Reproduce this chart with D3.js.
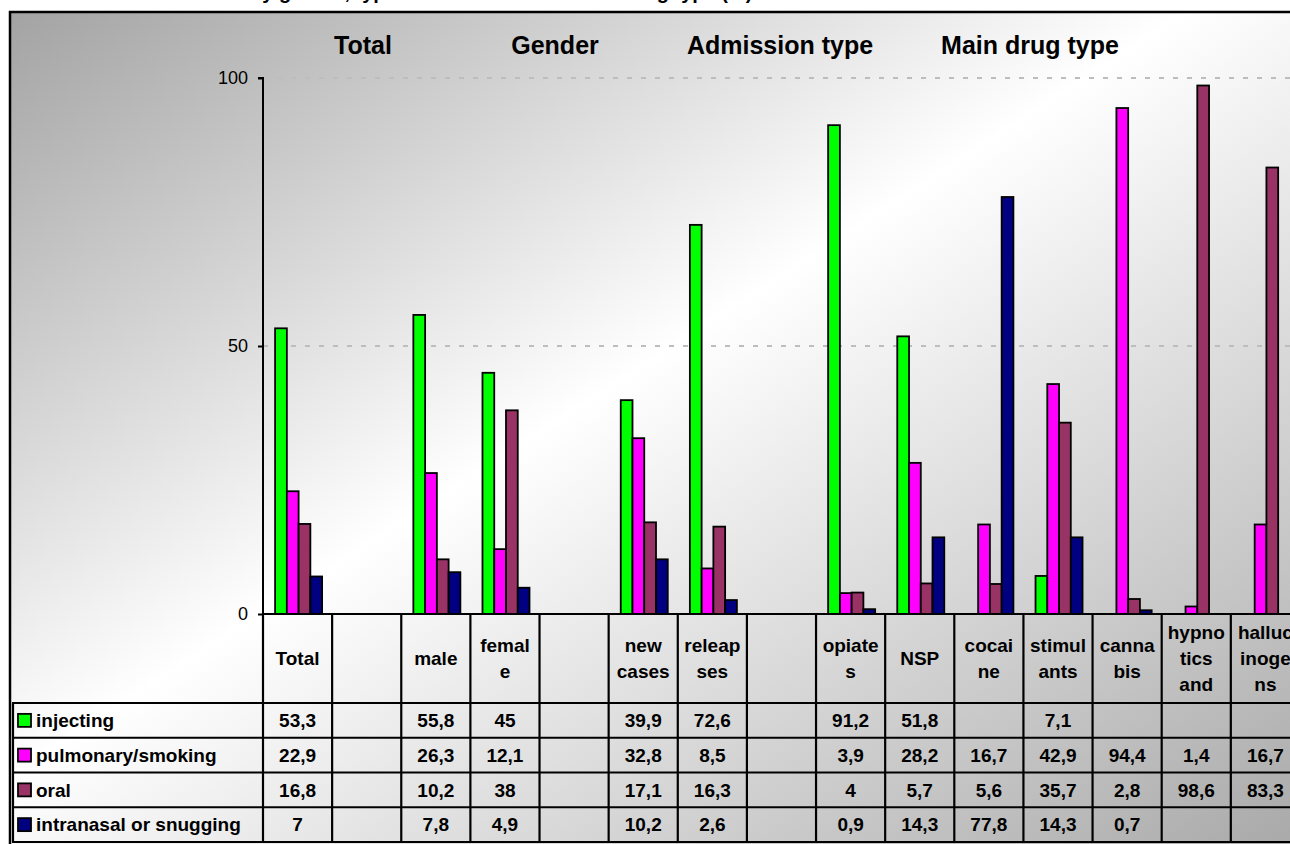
<!DOCTYPE html>
<html>
<head>
<meta charset="utf-8">
<script src="https://cdn.jsdelivr.net/npm/d3@7/dist/d3.min.js"></script>
<style>
  html, body { margin: 0; padding: 0; background: #ffffff; overflow: hidden; }
  svg { display: block; font-family: "Liberation Sans", Arial, sans-serif; }
</style>
</head>
<body>
<svg id="chart" width="1290" height="844"></svg>
<script>
// ---- data ----
const categories = ["Total", "", "male", "female", "", "new cases", "relapses", "",
  "opiates", "NSP", "cocaine", "stimulants", "cannabis", "hypnotics and", "hallucinogens"];
// header cell text as wrapped in the table
const headerLines = [["Total"], [], ["male"], ["femal", "e"], [], ["new", "cases"], ["releap", "ses"], [],
  ["opiate", "s"], ["NSP"], ["cocai", "ne"], ["stimul", "ants"], ["canna", "bis"],
  ["hypno", "tics", "and"], ["halluc", "inoge", "ns"]];
const seriesNames = ["injecting", "pulmonary/smoking", "oral", "intranasal or snugging"];
const injecting   = [53.3, null, 55.8, 45, null, 39.9, 72.6, null, 91.2, 51.8, null, 7.1, null, null, null];
const pulmonary   = [22.9, null, 26.3, 12.1, null, 32.8, 8.5, null, 3.9, 28.2, 16.7, 42.9, 94.4, 1.4, 16.7];
const oral        = [16.8, null, 10.2, 38, null, 17.1, 16.3, null, 4, 5.7, 5.6, 35.7, 2.8, 98.6, 83.3];
const intranasal  = [7, null, 7.8, 4.9, null, 10.2, 2.6, null, 0.9, 14.3, 77.8, 14.3, 0.7, null, null];
const yTicks = [0, 50, 100];
const groupHeadings = ["Total", "Gender", "Admission type", "Main drug type"];
const titleText = "Route of administration by gender, type of admission and main drug type (%)";

// ---- styling / layout ----
const colors = ["#00ff00", "#ff00ff", "#993366", "#000080"];
const headingX = [363, 555, 780, 1030];
const seriesValues = [injecting, pulmonary, oral, intranasal];

const svg = d3.select("#chart");
const defs = svg.append("defs");
const grad = defs.append("linearGradient").attr("id", "bg")
  .attr("x1", 0).attr("y1", 0).attr("x2", 1).attr("y2", 1);
grad.append("stop").attr("offset", 0).attr("stop-color", "#a3a3a3");
grad.append("stop").attr("offset", 0.45).attr("stop-color", "#ffffff");
grad.append("stop").attr("offset", 1).attr("stop-color", "#a6a6a6");

// title (runs off the top edge of the page)
svg.append("text").attr("x", 20).attr("y", -1.5)
  .attr("font-size", 20).attr("font-weight", "bold").text(titleText);

// chart area
svg.append("rect").attr("x", 10).attr("y", 12).attr("width", 1310).attr("height", 850)
  .attr("fill", "url(#bg)").attr("stroke", "#000").attr("stroke-width", 2.5);

const colW = 69.13;
const left = 263;
const x = d3.scaleBand().domain(d3.range(categories.length))
  .range([left, left + colW * categories.length]).padding(0);
const bw = x.bandwidth();
const xs = d3.scaleBand().domain(d3.range(seriesNames.length)).range([bw * 0.175, bw * 0.855]).padding(0);
const y = d3.scaleLinear().domain([0, 100]).range([614, 78]);
const right = left + colW * categories.length;

// gridlines
svg.append("g").selectAll("line").data(yTicks.filter(t => t > 0)).join("line")
  .attr("x1", left).attr("x2", right)
  .attr("y1", d => y(d)).attr("y2", d => y(d))
  .attr("stroke", "#bdbdbd").attr("stroke-width", 2).attr("stroke-dasharray", "5,9");

// bars
const barData = [];
seriesValues.forEach((vals, s) => vals.forEach((v, i) => {
  if (v !== null) barData.push({ s, i, v });
}));
svg.append("g").selectAll("rect").data(barData).join("rect")
  .attr("x", d => x(d.i) + xs(d.s))
  .attr("width", xs.bandwidth())
  .attr("y", d => y(d.v))
  .attr("height", d => y(0) - y(d.v))
  .attr("fill", d => colors[d.s])
  .attr("stroke", "#000").attr("stroke-width", 1.8);

// y axis
const yAxis = svg.append("g").attr("transform", `translate(${left},0)`)
  .call(d3.axisLeft(y).tickValues(yTicks).tickSize(5).tickPadding(10).tickFormat(d3.format("d")));
yAxis.select(".domain").attr("stroke", "#000").attr("stroke-width", 2).attr("d", `M-5,${y(100)}H0V${y(0)}`);
yAxis.selectAll(".tick line").attr("stroke", "#000").attr("stroke-width", 2);
yAxis.selectAll(".tick text").attr("font-size", 18).attr("fill", "#000")
  .attr("font-family", "Liberation Sans, Arial, sans-serif");

// group headings
svg.append("g").selectAll("text").data(groupHeadings).join("text")
  .attr("x", (d, i) => headingX[i]).attr("y", 54)
  .attr("text-anchor", "middle").attr("font-size", 25).attr("font-weight", "bold")
  .text(d => d);

// data table
const headTop = 614, headBottom = 703, rowH = 34.75;
const tableBottom = headBottom + rowH * seriesNames.length;
const tbl = svg.append("g");
const lineStyle = sel => sel.attr("stroke", "#000").attr("stroke-width", 2.2);

// horizontal rules
tbl.append("line").attr("x1", left).attr("x2", right).attr("y1", headTop).attr("y2", headTop).call(lineStyle);
d3.range(seriesNames.length + 1).forEach(r => {
  const yy = headBottom + r * rowH;
  tbl.append("line").attr("x1", 12).attr("x2", right).attr("y1", yy).attr("y2", yy).call(lineStyle);
});
// vertical rules
d3.range(categories.length + 1).forEach(c => {
  const xx = left + c * colW;
  tbl.append("line").attr("x1", xx).attr("x2", xx).attr("y1", headTop).attr("y2", tableBottom).call(lineStyle);
});
tbl.append("line").attr("x1", 13).attr("x2", 13).attr("y1", headBottom).attr("y2", tableBottom).call(lineStyle);

// header cells
const fs = 19, lh = 26, capShift = 6.8;
headerLines.forEach((lines, i) => {
  const cx = x(i) + bw / 2;
  const base0 = (headTop + headBottom) / 2 + capShift - (lines.length - 1) * lh / 2;
  lines.forEach((ln, k) => {
    tbl.append("text").attr("x", cx).attr("y", base0 + k * lh)
      .attr("text-anchor", "middle").attr("font-size", fs).attr("font-weight", "bold").text(ln);
  });
});

// legend column + values
const fmt = v => String(v).replace(".", ",");
seriesNames.forEach((name, s) => {
  const cy = headBottom + s * rowH + rowH / 2;
  tbl.append("rect").attr("x", 18).attr("y", cy - 6.5).attr("width", 13).attr("height", 13)
    .attr("fill", colors[s]).attr("stroke", "#000").attr("stroke-width", 1.8);
  tbl.append("text").attr("x", 36).attr("y", cy + capShift)
    .attr("font-size", fs).attr("font-weight", "bold").text(name);
  seriesValues[s].forEach((v, i) => {
    if (v === null) return;
    tbl.append("text").attr("x", x(i) + bw / 2).attr("y", cy + capShift)
      .attr("text-anchor", "middle").attr("font-size", fs).attr("font-weight", "bold").text(fmt(v));
  });
});
</script>
</body>
</html>
